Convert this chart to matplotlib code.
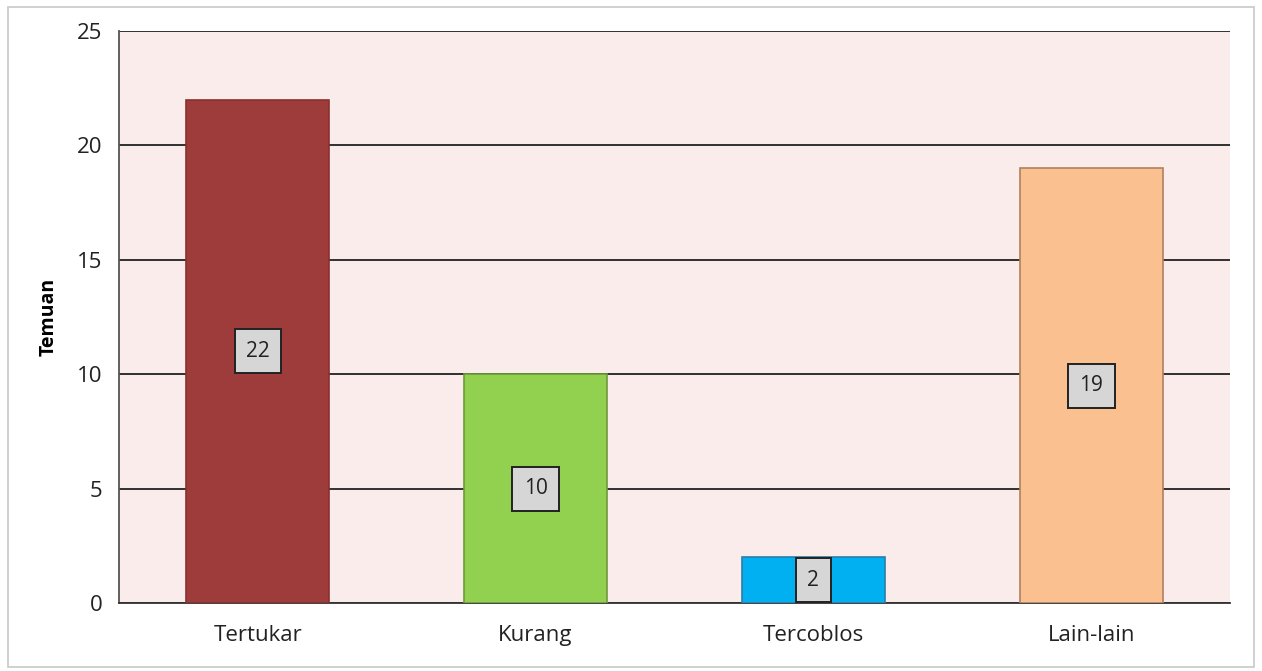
import matplotlib.pyplot as plt
from matplotlib.patches import Rectangle

categories = ['Tertukar', 'Kurang', 'Tercoblos', 'Lain-lain']
temuan = [22, 10, 2, 19]
bar_colors = ['#9E3B3B', '#92D050', '#00B0F0', '#FAC090']
edge_colors = ['#8A3030', '#6E9A3A', '#2A7FAA', '#B08060']

fig = plt.figure(figsize=(12.62, 6.71), dpi=100)
fig.patch.set_facecolor('white')
fig.patches.append(Rectangle((0.006, 0.006), 0.988, 0.983, transform=fig.transFigure,
                             fill=False, edgecolor='#C8C8C8', linewidth=1.2))

ax = fig.add_axes([119 / 1262, 68 / 671, 1111 / 1262, 572 / 671])
ax.set_facecolor('#F9ECEB')

x = range(len(categories))
ax.bar(x, temuan, width=0.515, color=bar_colors, edgecolor=edge_colors, linewidth=1.2, zorder=3)

# value boxes in the middle of each bar
for i, v in zip(x, temuan):
    ax.text(i, v / 2, str(v), ha='center', va='center', fontsize=15, color='#222222',
            family='Open Sans', zorder=4,
            bbox=dict(boxstyle='square,pad=0.55', facecolor='#D6D6D6', edgecolor='#222222', linewidth=1.4))

ax.set_xlim(-0.5, 3.5)
ax.set_ylim(0, 25)
ax.set_yticks([0, 5, 10, 15, 20, 25])
ax.set_xticks(list(x))
ax.set_xticklabels(categories, family='Open Sans', fontsize=16)
for lbl in ax.get_yticklabels():
    lbl.set_family('Open Sans')
    lbl.set_fontsize(16)
ax.tick_params(length=0, colors='#222222')
ax.tick_params(axis='x', pad=16)
ax.tick_params(axis='y', pad=12)
ax.yaxis.grid(True, color='#222222', linewidth=1.3, zorder=1)
ax.set_axisbelow(True)
for s in ['top', 'right']:
    ax.spines[s].set_visible(False)
ax.spines['left'].set_color('#555555')
ax.spines['bottom'].set_color('#333333')
ax.spines['left'].set_linewidth(1.3)
ax.spines['bottom'].set_linewidth(1.3)
ax.set_ylabel('Temuan', fontsize=14, fontweight='bold', family='Open Sans', labelpad=13)

plt.savefig('out.png', dpi=100)
